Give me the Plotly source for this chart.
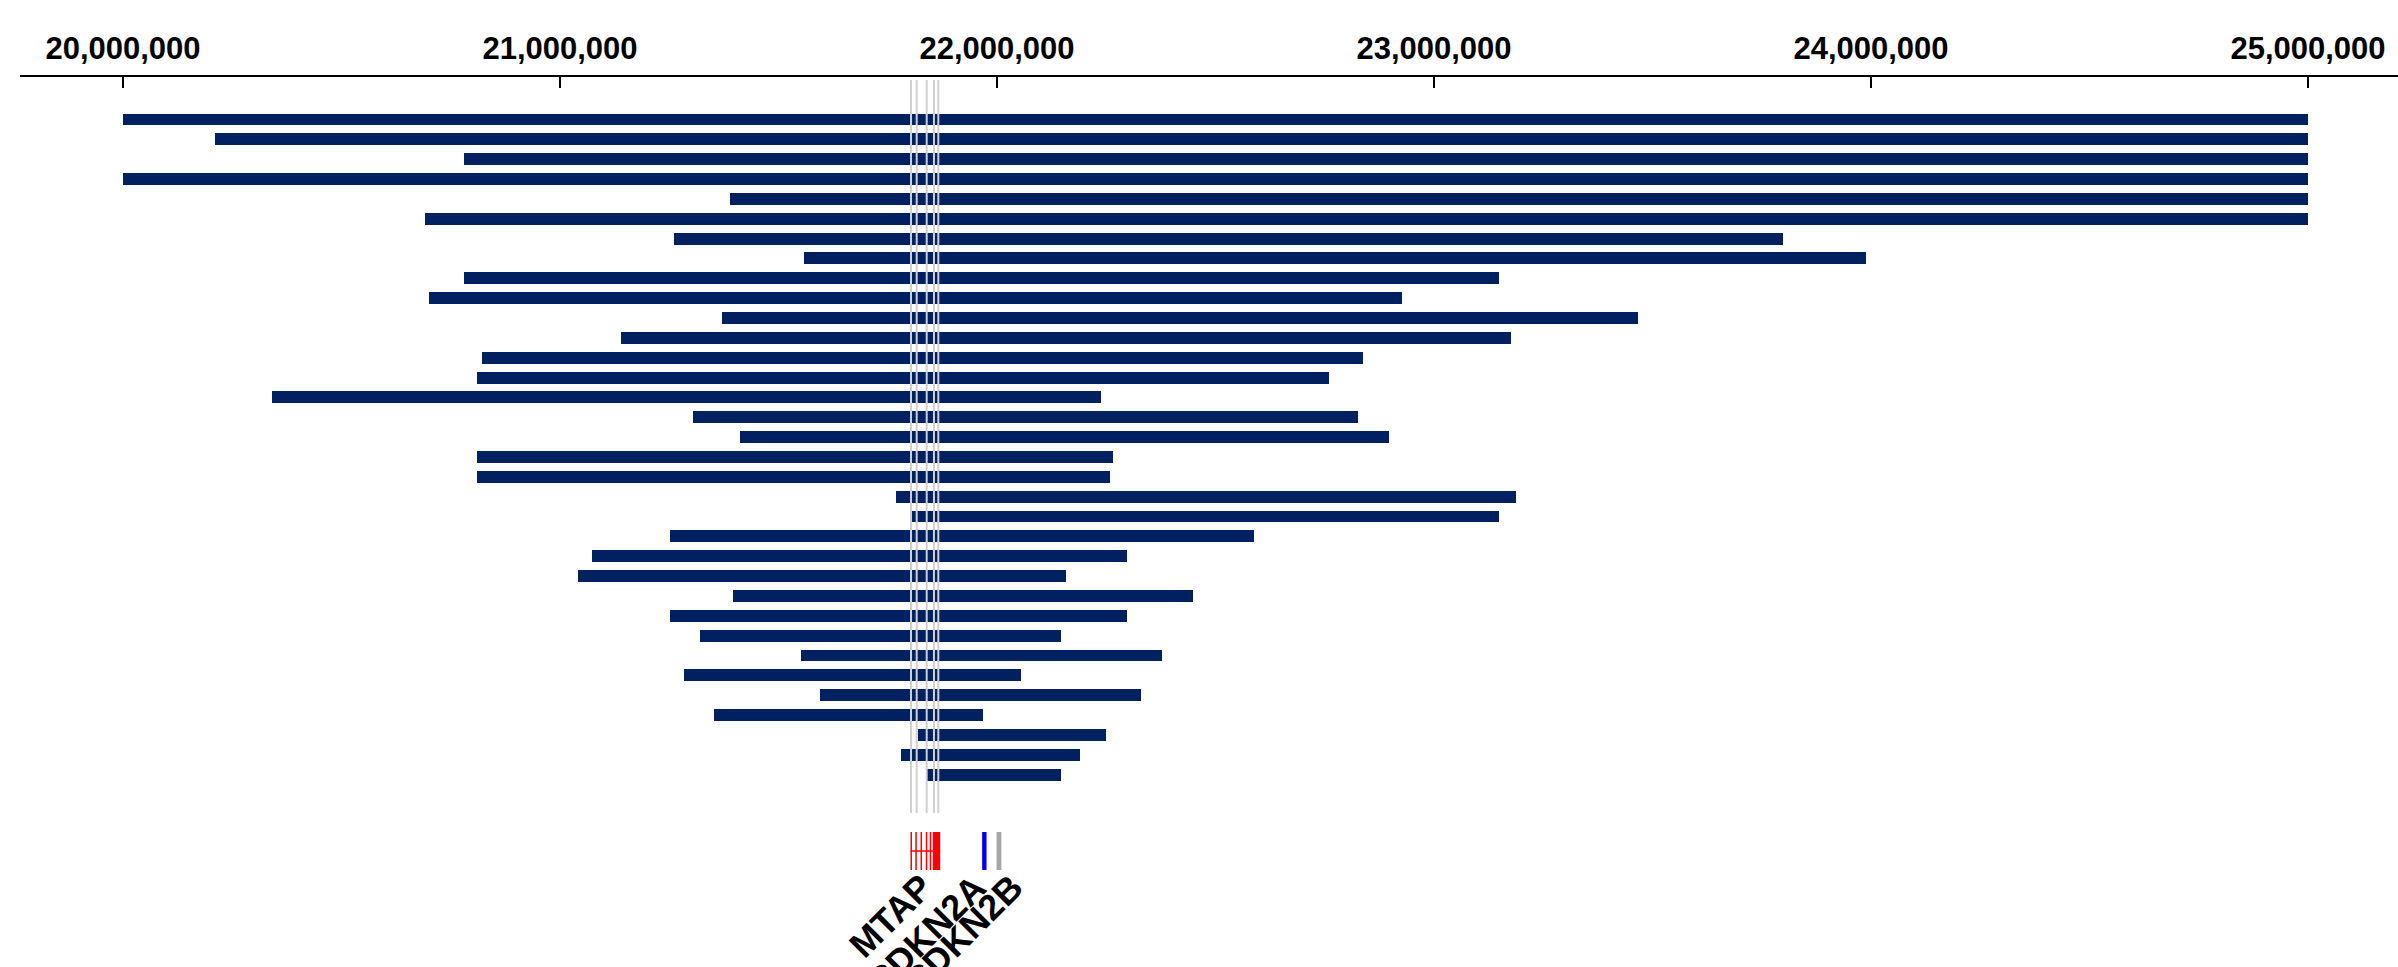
import plotly.graph_objects as go

# Deleted segments per sample (bp, chr9p21 region)
seg_start = [20000000, 20211000, 20781000, 20000000, 21390000, 20691000, 21260000,
             21559000, 20781000, 20701000, 21371000, 21140000, 20821000, 20810000,
             20341000, 21304000, 21412000, 20810000, 20810000, 21770000, 21800000,
             21251000, 21073000, 21041000, 21395000, 21251000, 21321000, 21552000,
             21283000, 21594000, 21353000, 21820000, 21780000, 21840000]
seg_end = [25000000, 25000000, 25000000, 25000000, 25000000, 25000000, 23799000,
           23989000, 23149000, 22927000, 23467000, 23176000, 22837000, 22760000,
           22238000, 22826000, 22896000, 22266000, 22259000, 23187000, 23148000,
           22588000, 22298000, 22158000, 22448000, 22298000, 22147000, 22378000,
           22056000, 22329000, 21969000, 22249000, 22189000, 22147000]
rows = list(range(len(seg_start)))

# Probe positions (grey guide lines)
probe_pos = [21803200, 21816200, 21839100, 21855800, 21865700]

# Gene models
mtap_exon_start = [21802000, 21813000, 21825000, 21837000, 21846000, 21853000]
mtap_exon_end = [21805500, 21816500, 21828500, 21840500, 21849500, 21870000]
cdkn2a_span = [21966000, 21976000]
cdkn2b_span = [21999000, 22010000]
gene_names = ["MTAP", "CDKN2A", "CDKN2B"]

tick_vals = [20000000, 21000000, 22000000, 23000000, 24000000, 25000000]
tick_text = ["20,000,000", "21,000,000", "22,000,000", "23,000,000", "24,000,000", "25,000,000"]

NAVY = "#002060"
FONT = "Liberation Sans, Arial, sans-serif"

fig = go.Figure()
fig.add_trace(go.Bar(
    y=rows,
    x=[e - s for s, e in zip(seg_start, seg_end)],
    base=seg_start,
    orientation="h",
    width=0.6,
    marker=dict(color=NAVY, line=dict(width=0)),
    hoverinfo="skip",
    showlegend=False,
))

shapes = []
for p in probe_pos:
    shapes.append(dict(type="line", xref="x", yref="paper", x0=p, x1=p,
                       y0=0.173, y1=0.9966, line=dict(color="#d0d0d0", width=2),
                       layer="above"))

g_top, g_bot, g_mid = 0.1517, 0.109, 0.1303
shapes.append(dict(type="line", xref="x", yref="paper",
                   x0=mtap_exon_start[0], x1=mtap_exon_end[-1], y0=g_mid, y1=g_mid,
                   line=dict(color="#ff0000", width=1.5)))
for s, e in zip(mtap_exon_start, mtap_exon_end):
    shapes.append(dict(type="rect", xref="x", yref="paper", x0=s, x1=e,
                       y0=g_bot, y1=g_top, fillcolor="#ff0000", line=dict(width=0)))
shapes.append(dict(type="rect", xref="x", yref="paper", x0=cdkn2a_span[0], x1=cdkn2a_span[1],
                   y0=g_bot, y1=g_top, fillcolor="#0000ee", line=dict(width=0)))
shapes.append(dict(type="rect", xref="x", yref="paper", x0=cdkn2b_span[0], x1=cdkn2b_span[1],
                   y0=g_bot, y1=g_top, fillcolor="#a6a6a6", line=dict(width=0)))

gene_x = [(mtap_exon_start[0] + mtap_exon_end[-1]) / 2,
          sum(cdkn2a_span) / 2, sum(cdkn2b_span) / 2]
gene_shift = [17, 12, 34]
annotations = []
for name, gx, sh in zip(gene_names, gene_x, gene_shift):
    annotations.append(dict(
        x=gx, y=0.116, xref="x", yref="paper", text=name, showarrow=False,
        textangle=-45, xanchor="right", yanchor="top", xshift=sh,
        font=dict(family=FONT, size=36, color="black", weight="bold"),
    ))

fig.update_layout(
    width=2398, height=967,
    margin=dict(l=20, r=0, t=77, b=0, pad=0),
    paper_bgcolor="white", plot_bgcolor="white",
    bargap=0,
    shapes=shapes,
    annotations=annotations,
    xaxis=dict(
        side="top", range=[19764302, 25205950], automargin=False,
        showgrid=False, zeroline=False,
        showline=True, linecolor="black", linewidth=1.5,
        ticks="inside", ticklen=11, tickwidth=1.5, tickcolor="black",
        tickvals=tick_vals, ticktext=tick_text,
        tickfont=dict(family=FONT, size=31, color="black", weight="bold"),
        ticklabelstandoff=4,
    ),
    yaxis=dict(
        range=[42.695, -2.141], automargin=False, visible=False,
        showgrid=False, zeroline=False,
    ),
)

fig.write_html("out.html")
